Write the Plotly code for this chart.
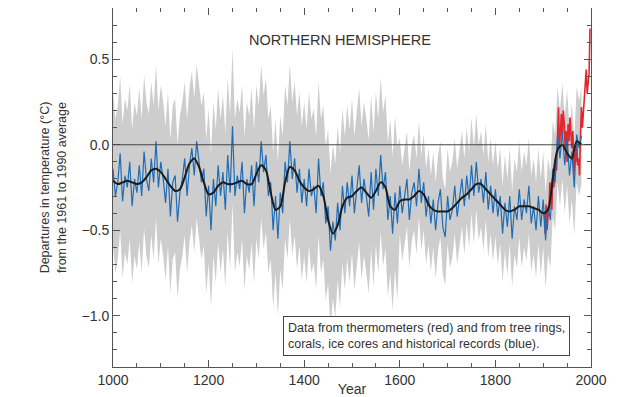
import plotly.graph_objects as go

# ---------------- data ----------------
BLUE_START, BLUE_STEP = 1000, 5
BLUE = [
    -0.14, -0.30, -0.22, -0.05, -0.33, -0.18, -0.25, -0.10, -0.36, -0.20,
    -0.28, -0.12, -0.30, -0.04, -0.20, -0.27, -0.08, -0.22, 0.02, -0.25,
    -0.10, -0.20, -0.34, -0.14, -0.42, -0.22, -0.18, -0.45, -0.28, -0.20,
    -0.08, -0.30, -0.12, -0.02, -0.18, 0.02, -0.10, -0.22, -0.14, -0.42,
    -0.24, -0.50, -0.20, -0.36, -0.12, -0.30, -0.16, -0.38, -0.06, -0.28,
    0.11, -0.30, -0.18, -0.26, -0.10, -0.40, -0.20, -0.28, -0.12, -0.36,
    -0.10, -0.22, 0.02, -0.16, -0.06, -0.30, -0.22, -0.50, -0.30, -0.55,
    -0.28, -0.40, -0.10, -0.22, 0.02, -0.20, -0.08, -0.28, -0.14, -0.34,
    -0.20, -0.36, -0.14, -0.30, -0.24, -0.40, -0.08, -0.30, -0.22, -0.46,
    -0.36, -0.62, -0.45, -0.56, -0.34, -0.50, -0.24, -0.40, -0.22, -0.36,
    -0.18, -0.40, -0.26, -0.12, -0.34, -0.20, -0.30, -0.42, -0.16, -0.38,
    -0.14, -0.30, -0.06, -0.26, -0.16, -0.44, -0.30, -0.52, -0.28, -0.46,
    -0.24, -0.40, -0.30, -0.20, -0.44, -0.28, -0.22, -0.36, -0.14, -0.34,
    -0.22, -0.42, -0.30, -0.46, -0.32, -0.50, -0.34, -0.26, -0.48, -0.54,
    -0.30, -0.44, -0.38, -0.24, -0.42, -0.30, -0.20, -0.36, -0.18, -0.32,
    -0.12, -0.30, -0.10, -0.28, -0.20, -0.34, -0.16, -0.38, -0.24, -0.40,
    -0.26, -0.42, -0.30, -0.52, -0.34, -0.48, -0.30, -0.55, -0.36, -0.44,
    -0.26, -0.44, -0.32, -0.40, -0.24, -0.46, -0.36, -0.50, -0.30, -0.48,
    -0.32, -0.56, -0.36, -0.44, -0.14, -0.22, 0.06, -0.08, 0.08, -0.12,
    0.04, -0.18, -0.04, -0.25, 0.06, -0.02, 0.05,
]
BLUE_YEARS = [BLUE_START + BLUE_STEP * i for i in range(len(BLUE))]

# half-width of the uncertainty band by period (start year, end year, half-width)
BAND_HALF_WIDTH = [(1000, 1600, 0.45), (1600, 2000, 0.28)]

SMOOTH_START, SMOOTH_STEP = 1000, 10
SMOOTH = [
    -0.21, -0.23, -0.22, -0.21, -0.22, -0.23, -0.22, -0.19, -0.15, -0.14,
    -0.16, -0.20, -0.24, -0.27, -0.26, -0.19, -0.11, -0.08, -0.13, -0.22,
    -0.29, -0.28, -0.24, -0.22, -0.23, -0.23, -0.22, -0.21, -0.23, -0.23,
    -0.17, -0.12, -0.15, -0.28, -0.38, -0.36, -0.22, -0.13, -0.15, -0.21,
    -0.25, -0.27, -0.26, -0.24, -0.30, -0.44, -0.52, -0.47, -0.36, -0.31,
    -0.30, -0.27, -0.25, -0.28, -0.31, -0.27, -0.22, -0.25, -0.36, -0.38,
    -0.33, -0.32, -0.32, -0.30, -0.27, -0.29, -0.35, -0.38, -0.39, -0.39,
    -0.39, -0.37, -0.34, -0.31, -0.29, -0.26, -0.23, -0.23, -0.26, -0.29,
    -0.32, -0.35, -0.38, -0.39, -0.38, -0.36, -0.36, -0.36, -0.37, -0.38,
    -0.40, -0.38, -0.20, -0.03, 0.00, -0.05, -0.08, 0.02, 0.00,
]
SMOOTH_YEARS = [SMOOTH_START + SMOOTH_STEP * i for i in range(len(SMOOTH))]

RED_YEARS = list(range(1902, 1999, 2))
RED = [
    -0.40, -0.52, -0.35, -0.50, -0.42, -0.38, -0.22, -0.32, -0.38, -0.20,
    -0.25, -0.18, -0.08, -0.15, 0.02, 0.22, -0.02, 0.10, 0.18, 0.05,
    0.20, 0.12, -0.02, 0.08, -0.10, 0.12, 0.02, 0.16, 0.05, -0.02,
    0.08, -0.18, -0.05, -0.10, 0.02, -0.12, -0.08, -0.18, 0.05, 0.22,
    0.10, 0.18, 0.25, 0.38, 0.44, 0.30, 0.36, 0.42, 0.68,
]

X_TICKS = [1000, 1200, 1400, 1600, 1800, 2000]
Y_TICKS = [-1.0, -0.5, 0.0, 0.5]
Y_TICK_TEXT = ["\u22121.0", "\u22120.5", "0.0", "0.5"]
X_RANGE = [1000, 2000]
Y_RANGE = [-1.3, 0.8]

TITLE_TEXT = "NORTHERN HEMISPHERE"
NOTE_TEXT = ("Data from thermometers (red) and from tree rings,<br>"
             "corals, ice cores and historical records (blue).")
Y_TITLE = "Departures in temperature (\u00b0C)<br>from the 1961 to 1990 average"
X_TITLE = "Year"

# ---------------- derived band ----------------
def half_width(year):
    for a, b, w in BAND_HALF_WIDTH:
        if a <= year < b:
            return w
    return BAND_HALF_WIDTH[-1][2]

upper = [v + half_width(y) for y, v in zip(BLUE_YEARS, BLUE)]
lower = [v - half_width(y) for y, v in zip(BLUE_YEARS, BLUE)]

FONT = "Liberation Sans, Arial, Helvetica, sans-serif"
AXIS_COLOR = "#555555"
TEXT_COLOR = "#333333"
GREY = "#cdcdcd"

fig = go.Figure()
fig.add_trace(go.Scatter(x=BLUE_YEARS, y=upper, mode="lines",
                         line=dict(width=0, color=GREY),
                         hoverinfo="skip", showlegend=False))
fig.add_trace(go.Scatter(x=BLUE_YEARS, y=lower, mode="lines",
                         line=dict(width=0, color=GREY),
                         fill="tonexty", fillcolor=GREY,
                         hoverinfo="skip", showlegend=False))
fig.add_trace(go.Scatter(x=RED_YEARS, y=RED, mode="lines",
                         line=dict(width=1.6, color="#e3262e"),
                         showlegend=False))
fig.add_trace(go.Scatter(x=BLUE_YEARS, y=BLUE, mode="lines",
                         line=dict(width=1.2, color="#1f6db4"),
                         showlegend=False))
fig.add_trace(go.Scatter(x=SMOOTH_YEARS, y=SMOOTH, mode="lines",
                         line=dict(width=2, color="#1b1b1b", shape="spline", smoothing=0.8),
                         showlegend=False))

fig.add_shape(type="line", xref="paper", x0=0, x1=1, yref="y", y0=0, y1=0,
              line=dict(color="#444444", width=1), layer="above")

fig.add_annotation(text=TITLE_TEXT, xref="paper", yref="paper", x=0.475, y=0.911,
                   xanchor="center", yanchor="middle",
                   showarrow=False, font=dict(family=FONT, size=14.5, color=TEXT_COLOR))
fig.add_annotation(text=NOTE_TEXT, xref="paper", yref="paper", x=0.655, y=0.086,
                   xanchor="center", yanchor="middle",
                   showarrow=False, align="left", bgcolor="white",
                   bordercolor="#444444", borderwidth=1, borderpad=4,
                   font=dict(family=FONT, size=12.5, color=TEXT_COLOR))

axis_common = dict(showline=True, linecolor=AXIS_COLOR, linewidth=1, mirror="ticks",
                   ticks="inside", tickcolor=AXIS_COLOR, ticklen=7, tickwidth=1,
                   showgrid=False, zeroline=False, automargin=False,
                   tickfont=dict(family=FONT, size=14, color=TEXT_COLOR))

fig.update_xaxes(range=X_RANGE, tickvals=X_TICKS,
                 minor=dict(dtick=50, ticks="inside", ticklen=4, tickcolor=AXIS_COLOR),
                 title=dict(text=X_TITLE, standoff=4,
                            font=dict(family=FONT, size=14, color=TEXT_COLOR)),
                 **axis_common)
fig.update_yaxes(range=Y_RANGE, tickvals=Y_TICKS, ticktext=Y_TICK_TEXT,
                 minor=dict(dtick=0.1, ticks="inside", ticklen=4, tickcolor=AXIS_COLOR),
                 title=dict(text=Y_TITLE, standoff=12,
                            font=dict(family=FONT, size=12.5, color=TEXT_COLOR)),
                 **axis_common)

# the page puts the figure 8 px from the top-left corner of the window
fig.update_layout(template="none", width=610, height=389,
                  margin=dict(l=105, r=27, t=0, b=30),
                  paper_bgcolor="white", plot_bgcolor="white",
                  font=dict(family=FONT, color=TEXT_COLOR), showlegend=False)

fig.write_html("out.html")
